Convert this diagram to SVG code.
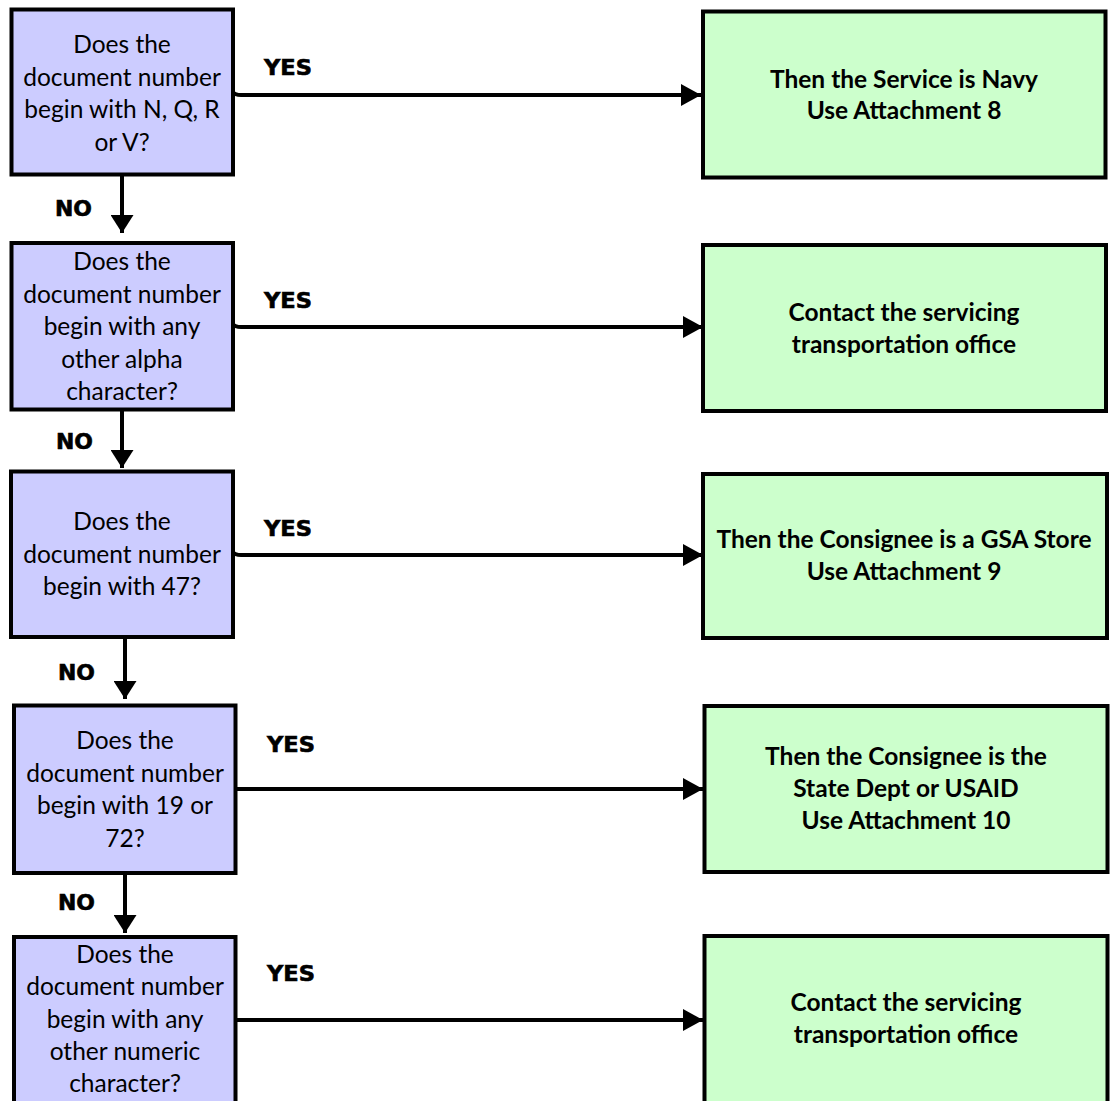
<svg xmlns="http://www.w3.org/2000/svg" width="1111" height="1101" viewBox="0 0 1111 1101">
<defs>
<style>
.q{fill:#CCCCFF;stroke:#000;stroke-width:4}
.r{fill:#CCFFCC;stroke:#000;stroke-width:4}
.qt{font-family:Lato,"Open Sans",sans-serif;font-size:24.5px;fill:#000;text-anchor:middle}
.rt{font-family:Lato,"Open Sans",sans-serif;font-size:24.5px;font-weight:bold;fill:#000;text-anchor:middle}
.lb{font-family:"DejaVu Sans",sans-serif;font-size:21px;font-weight:bold;fill:#000;stroke:#000;stroke-width:0.6}
.c{fill:none;stroke:#000;stroke-width:4}
</style>
<marker id="ah" markerWidth="20" markerHeight="22" refX="20" refY="11" orient="auto" markerUnits="userSpaceOnUse">
<path d="M0,0 L20,11 L0,22 Z" fill="#000"/>
</marker>
<marker id="dh" markerWidth="18" markerHeight="23" refX="18" refY="11.5" orient="auto" markerUnits="userSpaceOnUse">
<path d="M0,0 L18,11.5 L0,23 Z" fill="#000"/>
</marker>
</defs>
<rect width="1111" height="1101" fill="#fff"/>

<g id="connectors">
<path class="c" d="M233,92 q2,3 8,3 H701" marker-end="url(#ah)"/>
<path class="c" d="M233,324 q2,3 8,3 H703" marker-end="url(#ah)"/>
<path class="c" d="M233,552 q2,3 8,3 H703" marker-end="url(#ah)"/>
<path class="c" d="M235.5,789 H703" marker-end="url(#ah)"/>
<path class="c" d="M235.5,1020 H703" marker-end="url(#ah)"/>
<path class="c" d="M122,175 V233" marker-end="url(#dh)"/>
<path class="c" d="M122,410 V468" marker-end="url(#dh)"/>
<path class="c" d="M125,637 V699" marker-end="url(#dh)"/>
<path class="c" d="M125,873 V933" marker-end="url(#dh)"/>
<text class="lb" x="264" y="75" textLength="48" lengthAdjust="spacingAndGlyphs">YES</text>
<text class="lb" x="264" y="308" textLength="48" lengthAdjust="spacingAndGlyphs">YES</text>
<text class="lb" x="264" y="536" textLength="48" lengthAdjust="spacingAndGlyphs">YES</text>
<text class="lb" x="267" y="752" textLength="48" lengthAdjust="spacingAndGlyphs">YES</text>
<text class="lb" x="267" y="981" textLength="48" lengthAdjust="spacingAndGlyphs">YES</text>
<text class="lb" x="55" y="216" textLength="37" lengthAdjust="spacingAndGlyphs">NO</text>
<text class="lb" x="56" y="449" textLength="37" lengthAdjust="spacingAndGlyphs">NO</text>
<text class="lb" x="58" y="680" textLength="37" lengthAdjust="spacingAndGlyphs">NO</text>
<text class="lb" x="58" y="910" textLength="37" lengthAdjust="spacingAndGlyphs">NO</text>
</g>

<g id="q1">
<rect class="q" x="11.5" y="9.5" width="221.5" height="165"/>
<text class="qt" x="122" y="53">Does the</text>
<text class="qt" x="122" y="85.5">document number</text>
<text class="qt" x="122" y="118">begin with N, Q, R</text>
<text class="qt" x="122" y="150.5">or V?</text>
</g>
<g id="q2">
<rect class="q" x="11.5" y="243" width="221.5" height="166.5"/>
<text class="qt" x="122" y="270">Does the</text>
<text class="qt" x="122" y="302.5">document number</text>
<text class="qt" x="122" y="335">begin with any</text>
<text class="qt" x="122" y="367.5">other alpha</text>
<text class="qt" x="122" y="400">character?</text>
</g>
<g id="q3">
<rect class="q" x="11" y="471.5" width="222" height="165.5"/>
<text class="qt" x="122" y="530">Does the</text>
<text class="qt" x="122" y="562.5">document number</text>
<text class="qt" x="122" y="595">begin with 47?</text>
</g>
<g id="q4">
<rect class="q" x="14" y="705.5" width="221.5" height="167.5"/>
<text class="qt" x="125" y="749">Does the</text>
<text class="qt" x="125" y="781.5">document number</text>
<text class="qt" x="125" y="814">begin with 19 or</text>
<text class="qt" x="125" y="846.5">72?</text>
</g>
<g id="q5">
<rect class="q" x="14" y="937" width="221.5" height="200"/>
<text class="qt" x="125" y="963">Does the</text>
<text class="qt" x="125" y="995">document number</text>
<text class="qt" x="125" y="1027.5">begin with any</text>
<text class="qt" x="125" y="1060">other numeric</text>
<text class="qt" x="125" y="1092">character?</text>
</g>

<g id="a1">
<rect class="r" x="703" y="11.5" width="402.5" height="166"/>
<text class="rt" x="904" y="88">Then the Service is Navy</text>
<text class="rt" x="904" y="119">Use Attachment 8</text>
</g>
<g id="a2">
<rect class="r" x="703" y="245" width="403" height="166"/>
<text class="rt" x="904" y="321">Contact the servicing</text>
<text class="rt" x="904" y="353">transportation office</text>
</g>
<g id="a3">
<rect class="r" x="703" y="474" width="404" height="164"/>
<text class="rt" x="904" y="548">Then the Consignee is a GSA Store</text>
<text class="rt" x="904" y="580">Use Attachment 9</text>
</g>
<g id="a4">
<rect class="r" x="704.5" y="706" width="403" height="166"/>
<text class="rt" x="906" y="765">Then the Consignee is the</text>
<text class="rt" x="906" y="797">State Dept or USAID</text>
<text class="rt" x="906" y="829">Use Attachment 10</text>
</g>
<g id="a5">
<rect class="r" x="704.5" y="936" width="403" height="200"/>
<text class="rt" x="906" y="1011">Contact the servicing</text>
<text class="rt" x="906" y="1043">transportation office</text>
</g>
</svg>
